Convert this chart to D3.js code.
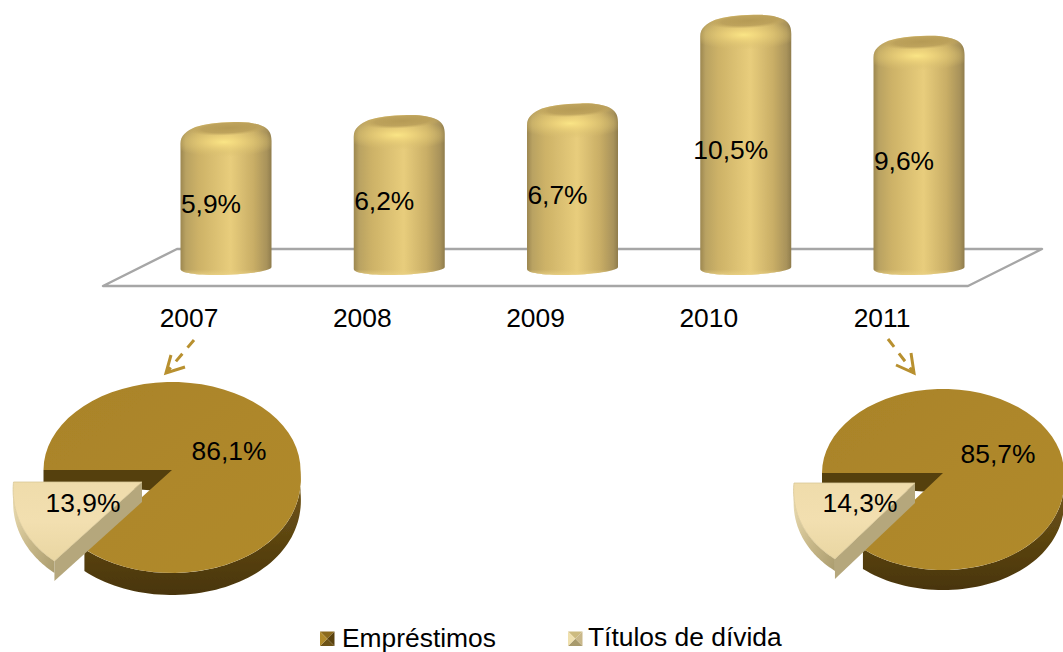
<!DOCTYPE html>
<html><head><meta charset="utf-8">
<script src="https://cdnjs.cloudflare.com/ajax/libs/d3/7.8.5/d3.min.js"></script>
<style>html,body{margin:0;background:#fff}svg{display:block}text{font-family:"Liberation Sans",Arial,sans-serif;font-size:26.4px;fill:#000}</style>
</head><body><svg id="c" width="1063" height="652"></svg>
<script>
const years = ["2007","2008","2009","2010","2011"];
const barValues = [5.9,6.2,6.7,10.5,9.6];
const barLabels = ["5,9%","6,2%","6,7%","10,5%","9,6%"];
const pieNames = ["Empréstimos","Títulos de dívida"];
const pie2007 = [86.1,13.9];
const pie2011 = [85.7,14.3];
const pie2007Labels = ["86,1%","13,9%"];
const pie2011Labels = ["85,7%","14,3%"];

const svg = d3.select("#c");
const defs = svg.append("defs");
function grad(id, stops, x2=1, y2=0){
  const g = defs.append("linearGradient").attr("id",id).attr("x1",0).attr("y1",0).attr("x2",x2).attr("y2",y2);
  stops.forEach(s=>g.append("stop").attr("offset",s[0]).attr("stop-color",s[1]).attr("stop-opacity",s[2]===undefined?1:s[2]));
}
grad("cyl",[[0,"#9c8750"],[.06,"#b9a262"],[.2,"#cdb267"],[.55,"#e8cd7c"],[.8,"#c9ae66"],[.95,"#a8925a"],[1,"#8f7c4c"]]);
grad("cylBase",[[0,"#e7cd80",0],[.6,"#e7cd80",0],[1,"#ecd488",.9]],0,1);
grad("wall",[[0,"#7a5c18"],[.45,"#604812"],[1,"#49350a"]],0,1);
grad("topMain",[[0,"#a98328"],[.5,"#ae872a"],[1,"#b08a2c"]],1,1);
grad("topWedge",[[0,"#efdcab"],[.5,"#f2dfb0"],[1,"#e9d6a2"]],0,1);
grad("wedgeOuter",[[0,"#f0e2b8"],[.5,"#c9b98a"],[1,"#a89a6c"]],1,1);
const rg = defs.append("radialGradient").attr("id","shine");
rg.append("stop").attr("offset",0).attr("stop-color","#fae586").attr("stop-opacity",1);
rg.append("stop").attr("offset",.3).attr("stop-color","#f0d67c").attr("stop-opacity",.8);
rg.append("stop").attr("offset",.7).attr("stop-color","#dfc572").attr("stop-opacity",.45);
rg.append("stop").attr("offset",1).attr("stop-color","#d8be6e").attr("stop-opacity",0);
const rt = defs.append("radialGradient").attr("id","cap");
rt.append("stop").attr("offset",0).attr("stop-color","#b59a55").attr("stop-opacity",1);
rt.append("stop").attr("offset",.65).attr("stop-color","#ba9f59").attr("stop-opacity",.9);
rt.append("stop").attr("offset",1).attr("stop-color","#c4a960").attr("stop-opacity",0);
defs.append("filter").attr("id","soft").attr("x","-5%").attr("y","-5%").attr("width","110%").attr("height","110%")
  .append("feGaussianBlur").attr("stdDeviation",.6);

// floor
const floorX = d3.scaleLinear().domain([0,1]).range([103,968]);
const floorPts = [[floorX(0),286],[floorX(1),286],[1042,249],[177,249]];
svg.append("path").attr("d",d3.line()(floorPts)+"Z").attr("fill","none").attr("stroke","#a6a6a6").attr("stroke-width",2.4).attr("stroke-linejoin","round");

// cylinders
const x = d3.scalePoint().domain(years).range([226,919]);
const y = d3.scaleLinear().domain([0,12]).range([259.5,-20.1]);
const W = 91, base = 274;
const bars = svg.selectAll("g.bar").data(years.map((yr,i)=>({yr,v:barValues[i],label:barLabels[i]}))).join("g").attr("class","bar").attr("filter","url(#soft)");
bars.each(function(d,i){
  const g = d3.select(this), c = x(d.yr), L = c-W/2, R = c+W/2, T = y(d.v);
  const shape = `M${L},${base-5}L${L},${T+22}C${L},${T+13} ${L+6},${T+9} ${L+15},${T+5}C${L+25},${T+2} ${c-10},${T+.5} ${c+8},${T}`
    +`C${c+20},${T-.5} ${R-15},${T+1} ${R-7},${T+5}C${R-2},${T+8} ${R},${T+12} ${R},${T+19}`
    +`L${R},${base-7}C${R},${base-2} ${c+10},${base+1} ${c-8},${base+1}C${c-30},${base+1} ${L},${base-1} ${L},${base-5}Z`;
  const cid = "clip"+i;
  defs.append("clipPath").attr("id",cid).append("path").attr("d",shape);
  g.append("path").attr("d",shape).attr("fill","url(#cyl)");
  const o = g.append("g").attr("clip-path",`url(#${cid})`);
  o.append("rect").attr("x",L).attr("y",base-14).attr("width",W).attr("height",16).attr("fill","url(#cylBase)");
  o.append("ellipse").attr("cx",c-2).attr("cy",T+20).attr("rx",W*.6).attr("ry",15).attr("fill","url(#shine)");
  o.append("ellipse").attr("cx",c+3).attr("cy",T+6).attr("rx",W*.46).attr("ry",7.5).attr("transform",`rotate(-3 ${c} ${T+6})`).attr("fill","url(#cap)");
});
svg.selectAll("text.val").data(barValues).join("text").attr("class","val")
  .attr("x",(d,i)=>x(years[i])-15)
  .attr("y",d=>(y(d)+base)/2+15)
  .attr("text-anchor","middle").text((d,i)=>barLabels[i]);
svg.selectAll("text.yr").data(years).join("text").attr("class","yr")
  .attr("x",d=>x(d)-37).attr("y",326.5).attr("text-anchor","middle").text(d=>d);

// pies
const pieGen = d3.pie().sort(null).startAngle(Math.PI*1.5).endAngle(Math.PI*3.5);
function drawPie(vals, labels, o){
  const g = svg.append("g").attr("filter","url(#soft)");
  const k = .08;
  const P = (a,dx=0,dy=0)=>{const c=Math.cos(a),s=Math.sin(a);
    return [o.cx+dx+o.rx*s*(c<0?1-k*c:1), o.cy+dy-(c>0?o.up:o.down)*c];};
  const [main,wedge] = pieGen(vals);
  const arcPts=(a0,a1,dx=0,dy=0)=>d3.range(0,61).map(n=>P(a0+(a1-a0)*n/60,dx,dy));
  const line=d3.line();
  // inner cut wall along the horizontal radius
  g.append("path").attr("d",line([[o.cx,o.cy],P(Math.PI*1.5),[o.cx-o.rx,o.cy+o.depth*.55],[o.cx,o.cy+o.depth]])+"Z").attr("fill","#54400f");
  // outer wall of the big slice
  const a1 = main.endAngle-2*Math.PI;
  const outer = arcPts(Math.PI/2,a1).concat(arcPts(a1,Math.PI/2,0,o.depth));
  g.append("path").attr("d",line(outer)+"Z").attr("fill","url(#wall)");
  // top of the big slice
  g.append("path").attr("d",line([[o.cx,o.cy]].concat(arcPts(main.startAngle,main.endAngle)))+"Z").attr("fill","url(#topMain)");
  // exploded slice
  const wa0 = wedge.startAngle, wa1 = wedge.endAngle;
  const wdx=o.wx, wdy=o.wy;
  const ap=[o.cx+wdx,o.cy+wdy];
  const wallR = [ap,P(wa0,wdx,wdy),P(wa0,wdx,wdy+o.wdepth),[ap[0],ap[1]+o.wdepth]];
  g.append("path").attr("d",line(wallR)+"Z").attr("fill","#b5a77c");
  const wo = arcPts(wa0,wa1,wdx,wdy).concat(arcPts(wa1,wa0,wdx,wdy+o.wdepth*.6),[P(wa0,wdx,wdy+o.wdepth)]);
  g.append("path").attr("d",line(wo)+"Z").attr("fill","url(#wedgeOuter)");
  g.append("path").attr("d",line([ap].concat(arcPts(wa0,wa1,wdx,wdy)))+"Z").attr("fill","url(#topWedge)").attr("stroke","#d9c898").attr("stroke-width",.8);
  svg.append("text").attr("x",o.cx+o.l1[0]).attr("y",o.cy+o.l1[1]).attr("text-anchor","middle").text(labels[0]);
  svg.append("text").attr("x",ap[0]+o.l2[0]).attr("y",ap[1]+o.l2[1]).attr("text-anchor","middle").text(labels[1]);
}
drawPie(pie2007,pie2007Labels,{cx:172,cy:470,rx:128.5,up:88,down:103,depth:22,wdepth:20,wx:-30,wy:12,l1:[57,-10],l2:[-59,30]});
drawPie(pie2011,pie2011Labels,{cx:943,cy:473,rx:121,up:84,down:97,depth:20,wdepth:20,wx:-28,wy:10,l1:[55,-10],l2:[-55,29]});

// arrows
const gold="#b8902f";
function arrow(p0,p1,a,b){
  svg.append("line").attr("x1",p0[0]).attr("y1",p0[1]).attr("x2",p1[0]).attr("y2",p1[1]).attr("stroke",gold).attr("stroke-width",3).attr("stroke-dasharray","10 8");
  svg.append("path").attr("d",d3.line()([a,p1,b])).attr("fill","none").attr("stroke",gold).attr("stroke-width",3);
}
arrow([194,340],[166,373],[171,355],[185,367]);
arrow([888,339],[914,373],[911,353],[896,365]);

// legend
const legendItems = [{name:pieNames[0],sx:320,tx:342,by:647,c:["#8b6a1e","#5a4310","#6d5215","#b08a2c"]},
                     {name:pieNames[1],sx:568,tx:588,by:646,c:["#cdbb80","#c9b88a","#a89a6c","#efe0ae"]}];
legendItems.forEach(it=>{
  const s=14.5,x0=it.sx,y0=631.5,m=[x0+s/2,y0+s/2],a=[x0,y0],b=[x0+s,y0],c=[x0+s,y0+s],d=[x0,y0+s];
  const g=svg.append("g").attr("filter","url(#soft)");
  [[a,b],[b,c],[c,d],[d,a]].forEach((e,i)=>g.append("path").attr("d",d3.line()([e[0],e[1],m])+"Z").attr("fill",it.c[i]));
  svg.append("text").attr("x",it.tx).attr("y",it.by).text(it.name);
});
</script></body></html>
